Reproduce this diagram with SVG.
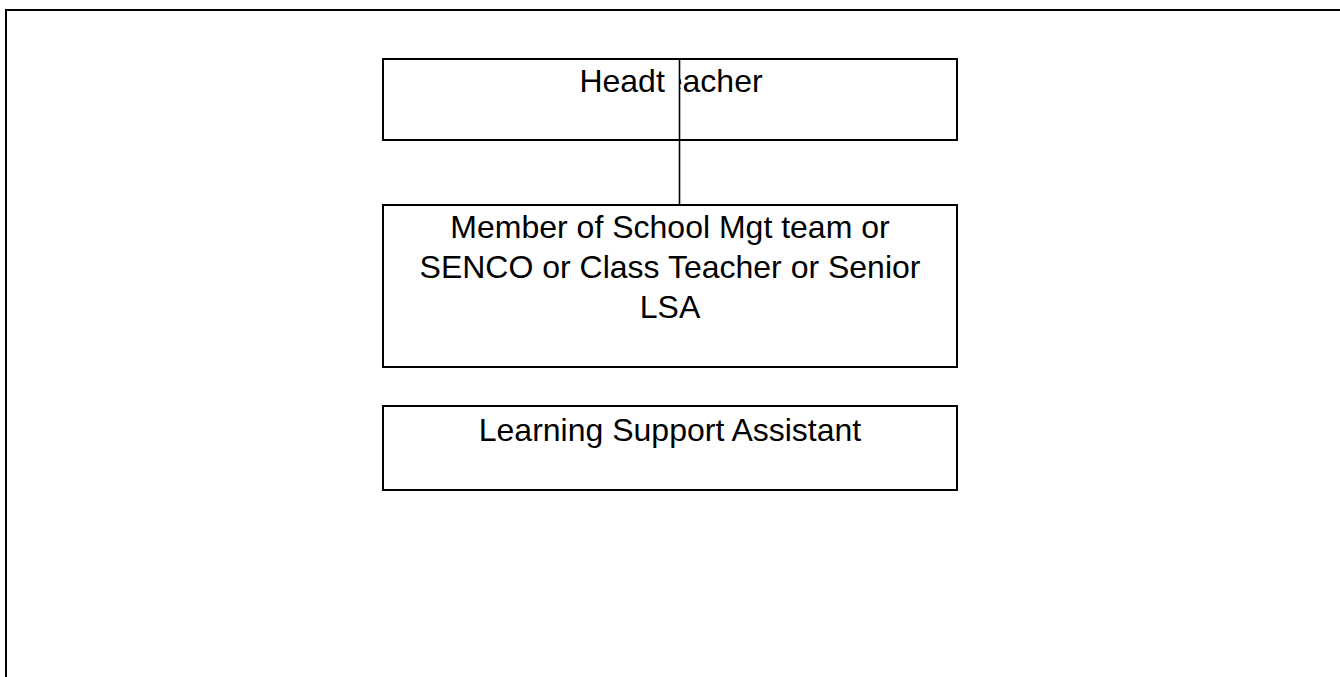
<svg xmlns="http://www.w3.org/2000/svg" width="1340" height="677" viewBox="0 0 1340 677">
<style>
.box{fill:#fff;stroke:#000;stroke-width:2}
.lbl{font-family:"Liberation Sans",Arial,sans-serif;font-size:32px;fill:#000;text-anchor:middle}
.conn{stroke:#000;stroke-width:1.6;fill:none}
</style>
<rect width="1340" height="677" fill="#fff"/>
<rect x="6" y="10" width="1400" height="700" fill="none" stroke="#000" stroke-width="2"/>
<g id="headteacher">
<rect class="box" x="383" y="59" width="574" height="81"/>
<text class="lbl" x="671" y="92">Headteacher</text>
</g>
<g id="member">
<rect class="box" x="383" y="205" width="574" height="162"/>
<text class="lbl" x="670" y="238">Member of School Mgt team or</text>
<text class="lbl" x="670" y="278">SENCO or Class Teacher or Senior</text>
<text class="lbl" x="670" y="318">LSA</text>
</g>
<g id="lsa">
<rect class="box" x="383" y="406" width="574" height="84"/>
<text class="lbl" x="670" y="441">Learning Support Assistant</text>
</g>
<g id="connectors">
<rect x="665" y="61" width="14" height="77" fill="#fff"/>
<line class="conn" x1="679.5" y1="59" x2="679.5" y2="205"/>
</g>
</svg>
